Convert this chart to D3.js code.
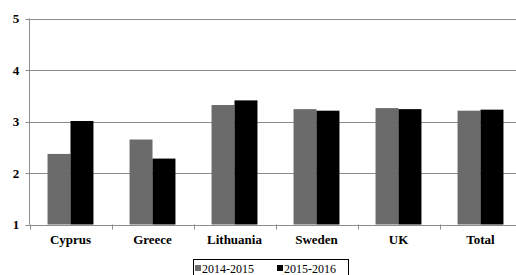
<!DOCTYPE html>
<html>
<head>
<meta charset="utf-8">
<script src="https://cdn.jsdelivr.net/npm/d3@7"></script>
<style>
  body { margin: 0; background: #fff; }
  text { font-family: "Liberation Serif", "Times New Roman", serif; }
</style>
</head>
<body>
<div id="chart"></div>
<script>
var categories = ["Cyprus", "Greece", "Lithuania", "Sweden", "UK", "Total"];
var seriesNames = ["2014-2015", "2015-2016"];
var values2014 = [2.37, 2.65, 3.32, 3.24, 3.26, 3.21];
var values2015 = [3.01, 2.28, 3.41, 3.21, 3.24, 3.23];
var yTicks = [1, 2, 3, 4, 5];

var svgWidth = 516;
var svgHeight = 275;
var colors = ["#6b6b6b", "#000000"];

var svg = d3.select("#chart")
    .append("svg")
    .attr("width", svgWidth)
    .attr("height", svgHeight);

var plotLeft = 29.5;
var plotRight = 521.5;

var x0 = d3.scaleBand()
    .domain(categories)
    .range([plotLeft, plotRight])
    .paddingInner(0.44)
    .paddingOuter(0.22);

var x1 = d3.scaleBand()
    .domain(seriesNames)
    .range([0, x0.bandwidth()]);

var y = d3.scaleLinear()
    .domain([1, 5])
    .range([224.5, 18.5]);

// gridlines
svg.append("g")
    .selectAll("line")
    .data(yTicks)
    .enter()
    .append("line")
    .attr("x1", plotLeft - 4)
    .attr("x2", svgWidth)
    .attr("y1", d => Math.round(y(d)) + 0.5)
    .attr("y2", d => Math.round(y(d)) + 0.5)
    .attr("stroke", "#8c8c8c")
    .attr("stroke-width", 1);

// y tick labels
svg.append("g")
    .selectAll("text")
    .data(yTicks)
    .enter()
    .append("text")
    .attr("x", 16)
    .attr("y", d => y(d) + 4.5)
    .attr("text-anchor", "middle")
    .attr("font-size", "13px")
    .attr("font-weight", "bold")
    .text(d => d);

// bars
var rows = categories.map((c, i) => ({ cat: c, vals: [values2014[i], values2015[i]] }));

var groups = svg.append("g")
    .selectAll("g")
    .data(rows)
    .enter()
    .append("g")
    .attr("transform", d => `translate(${x0(d.cat)},0)`);

groups.selectAll("rect")
    .data(d => d.vals.map((v, j) => ({ key: seriesNames[j], v: v, j: j })))
    .enter()
    .append("rect")
    .attr("x", d => x1(d.key))
    .attr("width", x1.bandwidth())
    .attr("y", d => y(d.v))
    .attr("height", d => y(1) - y(d.v))
    .attr("fill", d => colors[d.j]);

// y axis line
svg.append("line")
    .attr("x1", plotLeft)
    .attr("x2", plotLeft)
    .attr("y1", y(5))
    .attr("y2", y(1))
    .attr("stroke", "#8c8c8c");

// x axis with ticks at band edges
var xAxisG = svg.append("g");
xAxisG.append("line")
    .attr("x1", plotLeft)
    .attr("x2", svgWidth)
    .attr("y1", Math.round(y(1)) + 0.5)
    .attr("y2", Math.round(y(1)) + 0.5)
    .attr("stroke", "#8c8c8c");

var step = x0.step();
var edges = d3.range(categories.length + 1).map(i => plotLeft + i * step);
xAxisG.selectAll("line.tick")
    .data(edges)
    .enter()
    .append("line")
    .attr("class", "tick")
    .attr("x1", d => Math.round(d) + 0.5)
    .attr("x2", d => Math.round(d) + 0.5)
    .attr("y1", y(1))
    .attr("y2", y(1) + 5)
    .attr("stroke", "#8c8c8c");

xAxisG.selectAll("text")
    .data(categories)
    .enter()
    .append("text")
    .attr("x", d => x0(d) + x0.bandwidth() / 2)
    .attr("y", 244)
    .attr("text-anchor", "middle")
    .attr("font-size", "13px")
    .attr("font-weight", "bold")
    .text(d => d);

// legend
var legend = svg.append("g");
legend.append("rect")
    .attr("x", 193.5)
    .attr("y", 259.5)
    .attr("width", 155)
    .attr("height", 20)
    .attr("fill", "none")
    .attr("stroke", "#000")
    .attr("stroke-width", 1);

var legendX = [195, 277];
seriesNames.forEach(function(name, i) {
    legend.append("rect")
        .attr("x", legendX[i])
        .attr("y", 265)
        .attr("width", 6)
        .attr("height", 6)
        .attr("fill", colors[i]);
    legend.append("text")
        .attr("x", legendX[i] + 7)
        .attr("y", 272.5)
        .attr("font-size", "12px")
        .text(name);
});
</script>
</body>
</html>
